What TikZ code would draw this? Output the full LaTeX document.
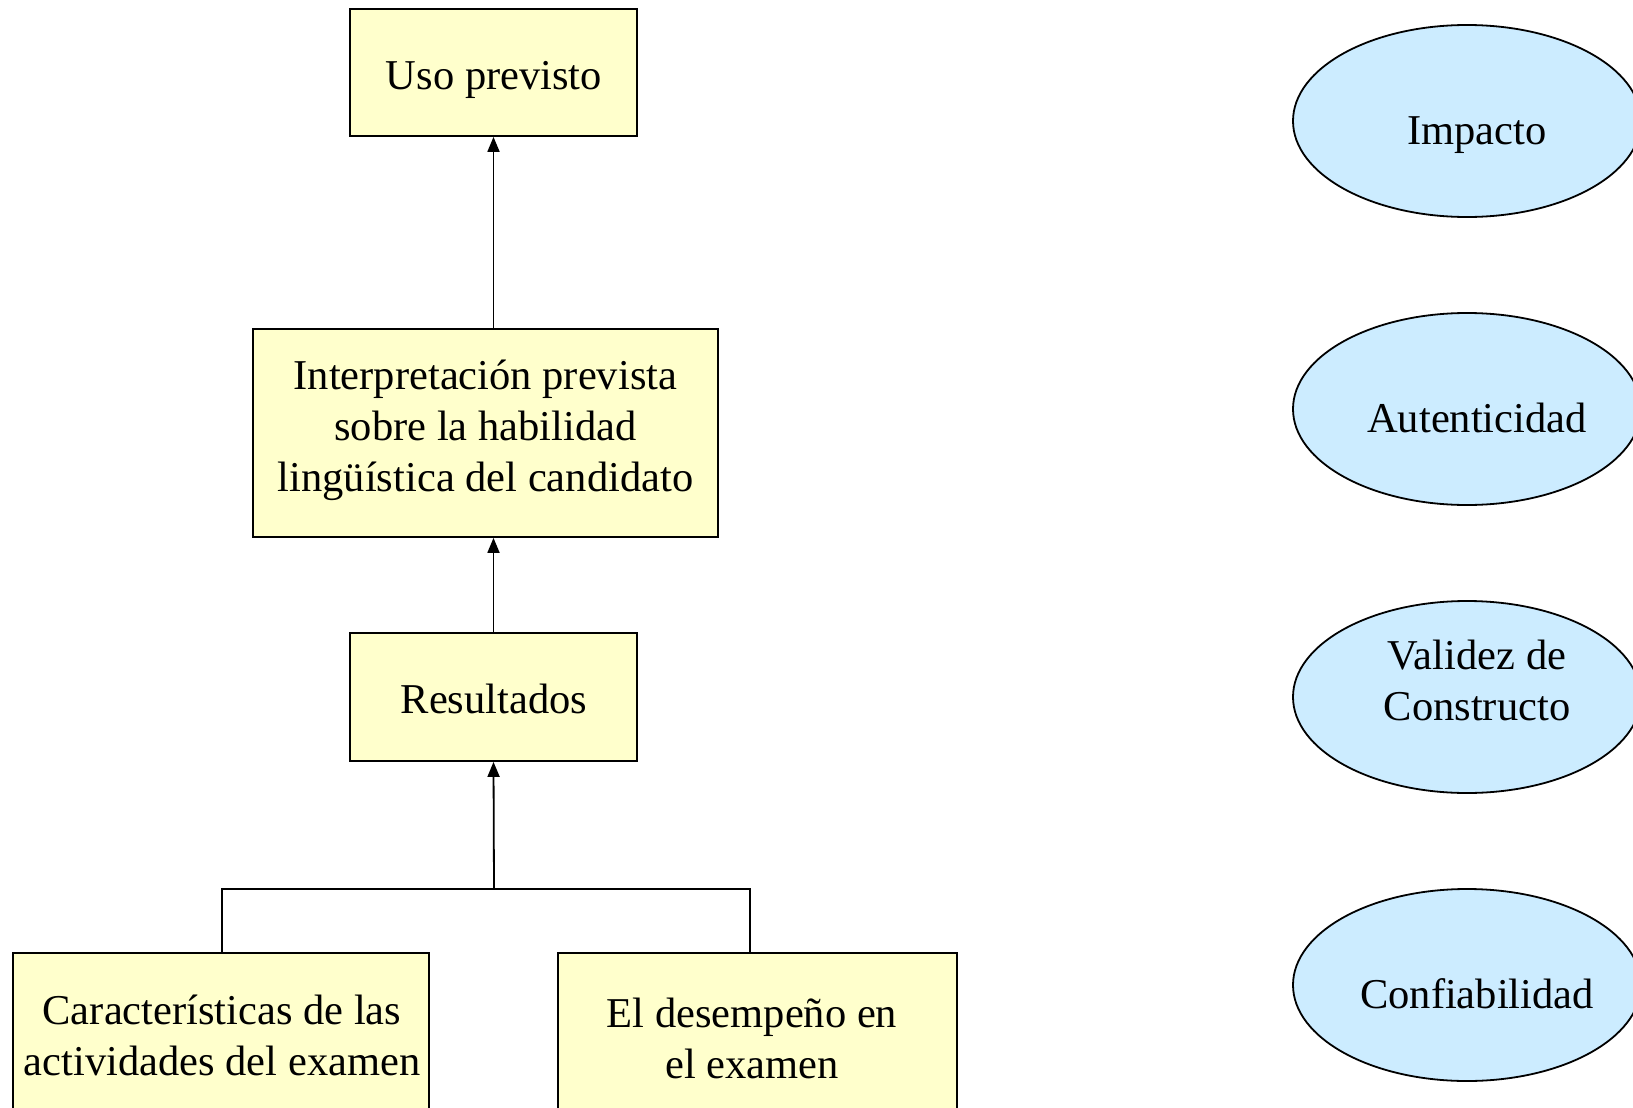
\documentclass[tikz,border=0pt]{standalone}
\usepackage{fontspec}
\setmainfont{Liberation Serif}
\usetikzlibrary{shapes.geometric,arrows.meta}
\definecolor{boxyellow}{HTML}{FFFFCC}
\definecolor{ellblue}{HTML}{CCECFF}
\tikzset{
  ybox/.style={draw=black, line width=1.8pt, fill=boxyellow, rectangle, inner sep=0pt},
  qell/.style={draw=black, line width=1.8pt, fill=ellblue, ellipse, inner sep=0pt,
    minimum width=348pt, minimum height=192pt},
  txt/.style={inner sep=0pt, align=center, font=\fontsize{42.5}{51}\selectfont},
  conn/.style={draw=black, line width=1.8pt},
  arr/.style={conn, -{Triangle[length=15pt,width=12pt]}},
}
\begin{document}
\begin{tikzpicture}[x=1pt,y=-1pt]
\useasboundingbox (0,0) rectangle (1633,1108);
\clip (0,0) rectangle (1633,1108);
\fill[white] (0,0) rectangle (1633,1108);
% boxes
\node[ybox, minimum width=287pt, minimum height=127pt] (uso) at (493.5,72.5) {};
\node[ybox, minimum width=465pt, minimum height=208pt] (interp) at (485.5,433) {};
\node[ybox, minimum width=287pt, minimum height=128pt] (res) at (493.5,697) {};
\node[ybox, minimum width=416pt, minimum height=170pt] (car) at (221,1038) {};
\node[ybox, minimum width=399pt, minimum height=170pt] (des) at (757.5,1038) {};
\node[txt] (usoT) at (494,80) {Uso previsto};
\node[txt] (interpT) at (485.5,430) {Interpretación prevista\\sobre la habilidad\\lingüística del candidato};
\node[txt] (resT) at (494,699) {Resultados};
\node[txt] (carT) at (222,1035) {Características de las\\actividades del examen};
\node[txt] (desT) at (752,1038) {El desempeño en\\el examen};
% connectors
\coordinate (jn) at (494,889);
\draw[conn] (car.north -| 222,0) |- (jn) -| (750,953);
\draw[arr] (jn) -- (res.south);
\draw[arr] (res.north) -- (res.north |- interp.south);
\draw[arr] (interp.north -| uso.south) -- (uso.south);
% ellipses
\node[qell] (imp) at (1467,121) {};
\node[qell] (aut) at (1467,409) {};
\node[qell] (val) at (1467,697) {};
\node[qell] (conf) at (1467,985) {};
\node[txt] (impT) at (1477,135) {Impacto};
\node[txt] (autT) at (1477,418) {Autenticidad};
\node[txt] (valT) at (1477,680) {Validez de\\Constructo};
\node[txt] (confT) at (1477,994) {Confiabilidad};
\end{tikzpicture}
\end{document}
